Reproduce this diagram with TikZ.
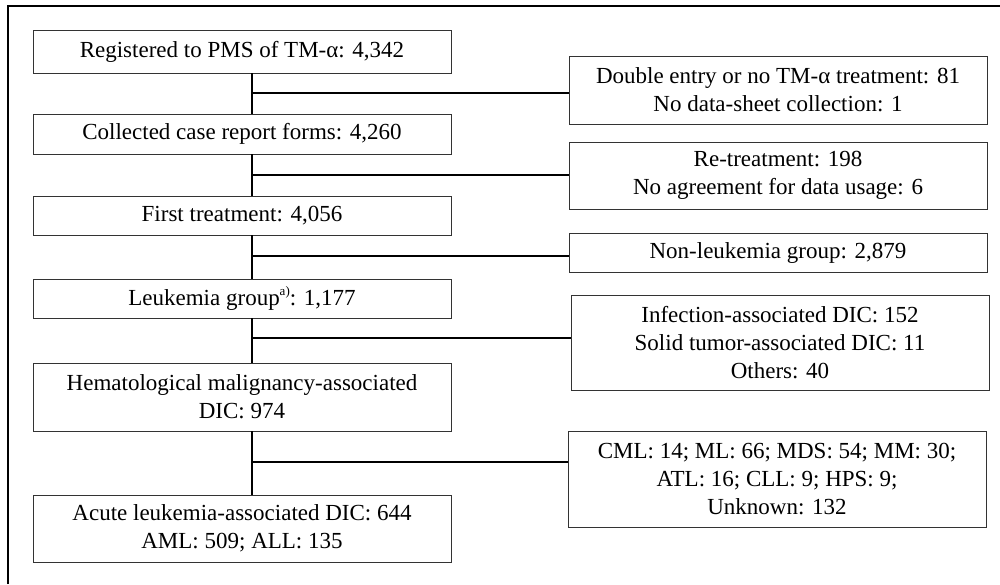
\documentclass[tikz,border=0pt]{standalone}
\usepackage{fontspec}
\setmainfont{Liberation Serif}
\begin{document}
\begin{tikzpicture}[x=1pt,y=-1pt,
  box/.style={draw=black!80,line width=0.9pt,rectangle,inner sep=0pt,align=center,
    font=\fontsize{23}{28}\selectfont,minimum width=418pt},
  conn/.style={draw=black,line width=1.6pt}]
\useasboundingbox (0,0) rectangle (1000,584);
\draw[line width=2.2pt] (8,584) -- (8,6) -- (1000,6);
% left column
\node[box,minimum height=43pt] (b1) at (242,51.5) {Registered to PMS of TM-α: 4,342};
\node[box,minimum height=40pt] (b2) at (242,134) {Collected case report forms: 4,260};
\node[box,minimum height=39pt] (b3) at (242,215.5) {First treatment: 4,056};
\node[box,minimum height=39pt] (b4) at (242,298.5) {Leukemia group\raisebox{0.45em}{\fontsize{13}{13}\selectfont a)}: 1,177};
\node[box,minimum height=68pt] (b5) at (242,397) {Hematological malignancy-associated\\DIC: 974};
\node[box,minimum height=67pt] (b6) at (242,528.5) {Acute leukemia-associated DIC: 644\\AML: 509; ALL: 135};
% right column
\node[box,minimum height=68pt] (r1) at (778,90) {Double entry or no TM-α treatment: 81\\No data-sheet collection: 1};
\node[box,minimum height=67pt] (r2) at (778,175.5) {Re-treatment: 198\\No agreement for data usage: 6};
\node[box,minimum height=39pt] (r3) at (778,252.5) {Non-leukemia group: 2,879};
\node[box,minimum height=95pt] (r4) at (780,342.5) {Infection-associated DIC: 152\\Solid tumor-associated DIC: 11\\Others: 40};
\node[box,minimum height=96pt] (r5) at (777,479) {CML: 14; ML: 66; MDS: 54; MM: 30;\\ATL: 16; CLL: 9; HPS: 9;\\Unknown: 132};
% trunk junctions
\coordinate (j1) at (252,93);
\coordinate (j2) at (252,175);
\coordinate (j3) at (252,256);
\coordinate (j4) at (252,338);
\coordinate (j5) at (252,462);
\draw[conn] (b1.south -| j1) -- (b2.north -| j1);
\draw[conn] (b2.south -| j2) -- (b3.north -| j2);
\draw[conn] (b3.south -| j3) -- (b4.north -| j3);
\draw[conn] (b4.south -| j4) -- (b5.north -| j4);
\draw[conn] (b5.south -| j5) -- (b6.north -| j5);
\draw[conn] (j1) -- (r1.west |- j1);
\draw[conn] (j2) -- (r2.west |- j2);
\draw[conn] (j3) -- (r3.west |- j3);
\draw[conn] (j4) -- (r4.west |- j4);
\draw[conn] (j5) -- (r5.west |- j5);
\end{tikzpicture}
\end{document}
